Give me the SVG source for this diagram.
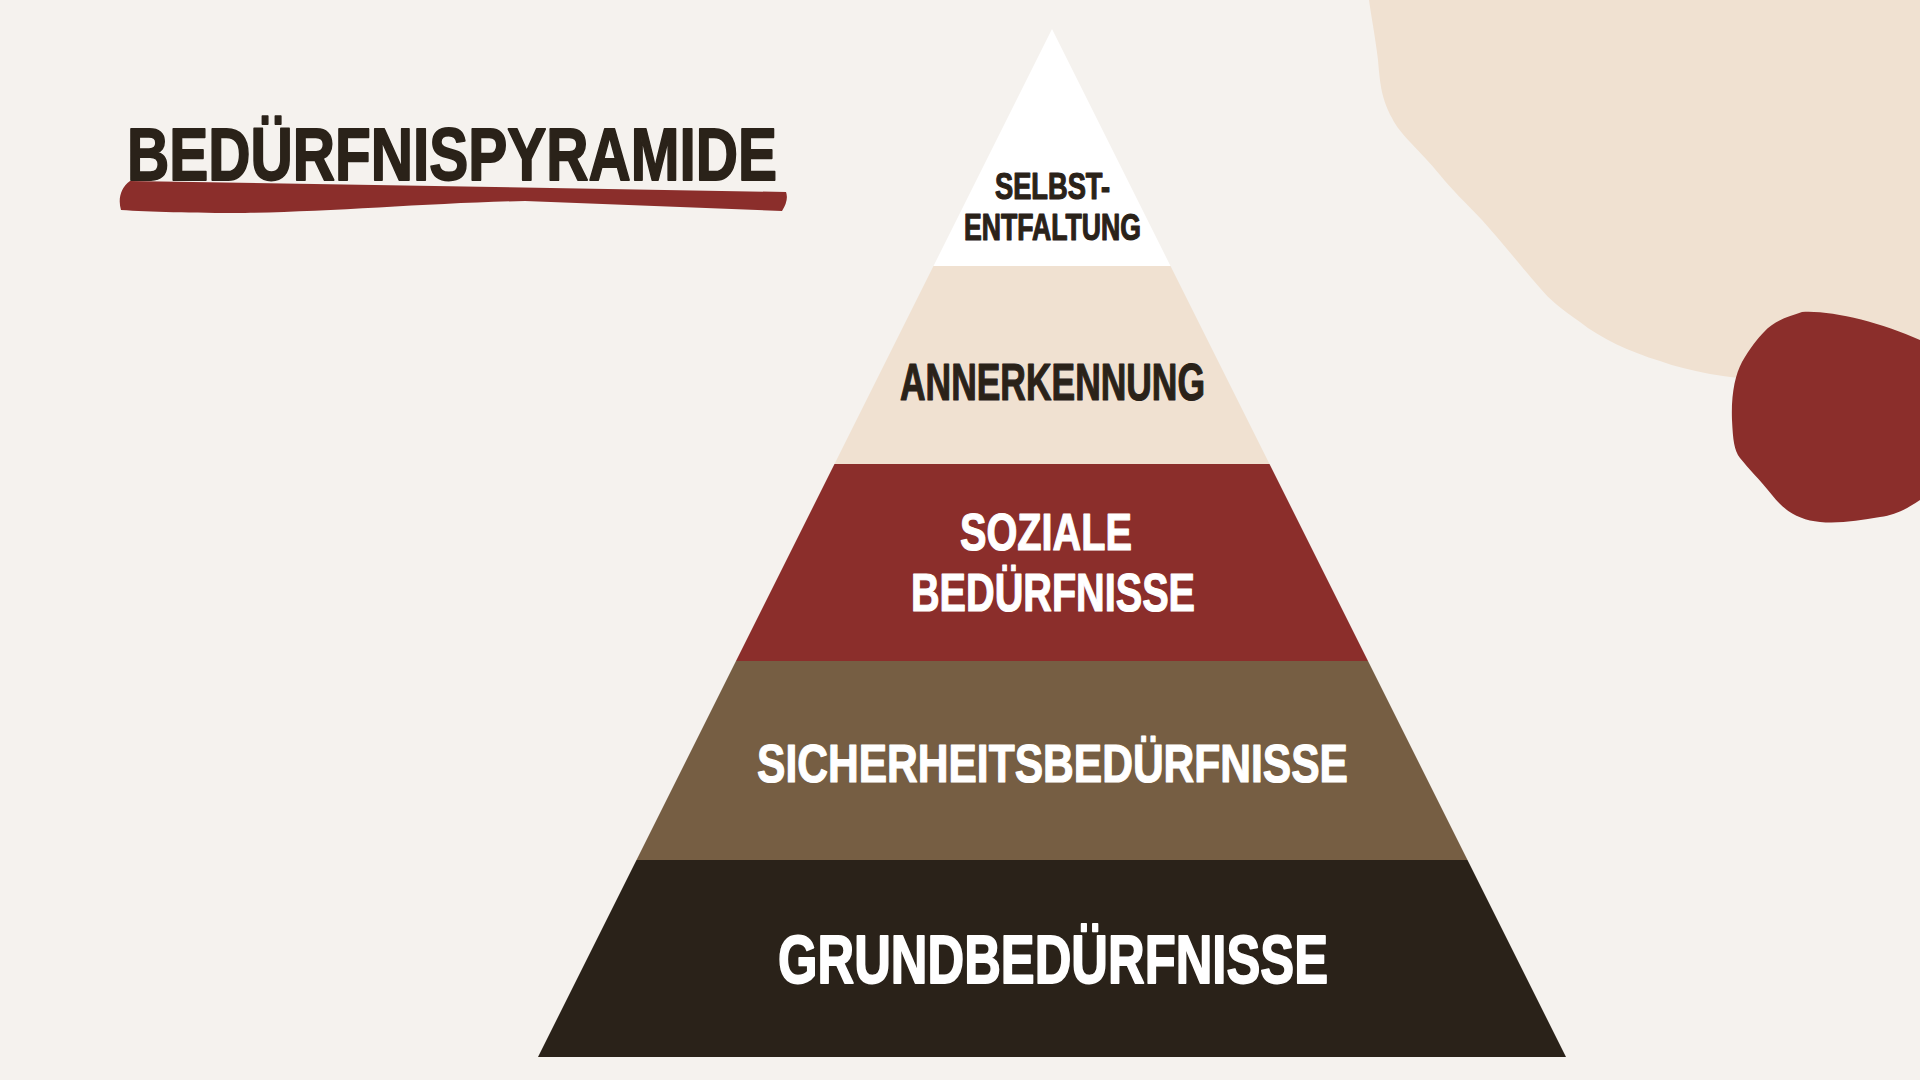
<svg xmlns="http://www.w3.org/2000/svg" width="1920" height="1080" viewBox="0 0 1920 1080">
  <style>
    .lbl { font-family: "Liberation Sans Narrow", "Liberation Sans", "DejaVu Sans", sans-serif; font-weight: bold; stroke-linejoin: round; }
    .dark { fill: #2A2219; stroke: #2A2219; stroke-width: 1.2; }
    .light { fill: #FFFFFF; stroke: #FFFFFF; stroke-width: 1.2; }
    .big { stroke-width: 1.8; }
  </style>
  <rect x="0" y="0" width="1920" height="1080" fill="#F5F2EE"/>
  <g id="decor">
    <path d="M 1369,0 L 1920,0 L 1920,380 L 1760,380 C 1730,378 1690,372 1660,361 C 1630,352 1600,338 1580,322 C 1560,308 1550,300 1540,288 C 1520,265 1500,240 1482,220 C 1465,202 1452,190 1440,175 C 1420,150 1400,135 1392,118 C 1382,100 1380,85 1378,60 C 1375,35 1371,15 1369,0 Z" fill="#F0E1D1"/>
    <path d="M 1802,312 C 1830,310 1880,322 1920,340 L 1920,500 C 1905,510 1895,515 1880,517 C 1860,520 1840,524 1820,522 C 1800,520 1785,512 1772,495 C 1760,480 1748,468 1740,458 C 1734,450 1733,440 1732,420 C 1731,395 1735,375 1742,362 C 1750,348 1758,338 1764,332 C 1775,320 1790,316 1802,312 Z" fill="#8B2E2B"/>
  </g>
  <g id="title">
    <path d="M 130,181 L 786,192 Q 789,200 782,211 L 525,201 C 430,203 330,212 245,213 C 190,213 150,212 121,210 C 118,200 120,188 130,181 Z" fill="#8B2E2B"/>
    <text class="lbl dark big" x="127" y="180" font-size="75" textLength="650" lengthAdjust="spacingAndGlyphs">BEDÜRFNISPYRAMIDE</text>
  </g>
  <g id="connectors"/>
  <g id="level-5-selbstentfaltung">
    <polygon points="1052,29 1170.5,266 933.5,266" fill="#FFFFFF"/>
    <text class="lbl dark" x="995" y="199" font-size="36" textLength="115" lengthAdjust="spacingAndGlyphs">SELBST-</text>
    <text class="lbl dark" x="964" y="240" font-size="36" textLength="177" lengthAdjust="spacingAndGlyphs">ENTFALTUNG</text>
  </g>
  <g id="level-4-anerkennung">
    <polygon points="933.5,266 1170.5,266 1269.5,464 834.5,464" fill="#F0E1D1"/>
    <text class="lbl dark" x="900" y="400" font-size="51" textLength="305" lengthAdjust="spacingAndGlyphs">ANNERKENNUNG</text>
  </g>
  <g id="level-3-soziale">
    <polygon points="834.5,464 1269.5,464 1368,661 736,661" fill="#8B2E2B"/>
    <text class="lbl light" x="960" y="550" font-size="52" textLength="172" lengthAdjust="spacingAndGlyphs">SOZIALE</text>
    <text class="lbl light" x="911" y="611" font-size="53" textLength="284" lengthAdjust="spacingAndGlyphs">BEDÜRFNISSE</text>
  </g>
  <g id="level-2-sicherheit">
    <polygon points="736,661 1368,661 1467.5,860 636.5,860" fill="#765E43"/>
    <text class="lbl light" x="757" y="782" font-size="54" textLength="591" lengthAdjust="spacingAndGlyphs">SICHERHEITSBEDÜRFNISSE</text>
  </g>
  <g id="level-1-grund">
    <polygon points="636.5,860 1467.5,860 1566,1057 538,1057" fill="#2A2219"/>
    <text class="lbl light big" x="778" y="983" font-size="68" textLength="550" lengthAdjust="spacingAndGlyphs">GRUNDBEDÜRFNISSE</text>
  </g>
</svg>
